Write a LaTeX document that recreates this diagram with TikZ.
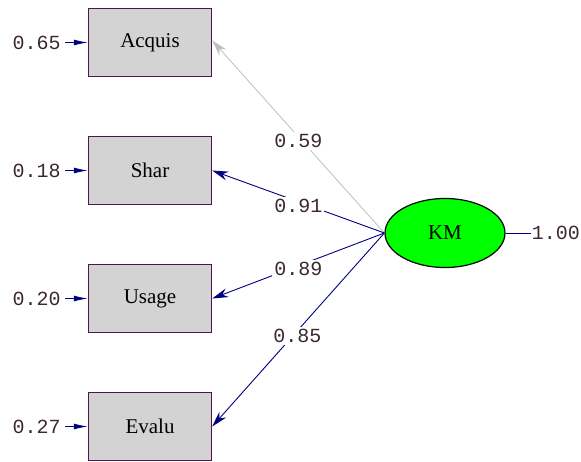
\documentclass[tikz,border=0pt]{standalone}
\usepackage{fontspec}
\setmainfont{Liberation Serif}
\setmonofont{Liberation Mono}
\usetikzlibrary{arrows.meta,shapes.geometric}
\definecolor{boxfill}{RGB}{211,211,211}
\definecolor{boxline}{RGB}{80,20,80}
\definecolor{navy}{RGB}{0,0,128}
\definecolor{lightarr}{RGB}{190,190,190}
\definecolor{numcol}{RGB}{60,40,50}
\begin{document}
\begin{tikzpicture}[x=1pt,y=-1pt,
  obs/.style={draw=boxline,line width=1.4pt,fill=boxfill,minimum width=123pt,minimum height=68pt,inner sep=0pt,font=\fontsize{21}{23}\selectfont},
  lat/.style={ellipse,draw=black,line width=1.2pt,fill=green,minimum width=120pt,minimum height=69pt,inner sep=0pt,font=\fontsize{21}{23}\selectfont},
  num/.style={font=\ttfamily\fontsize{20}{22}\selectfont,text=numcol,inner sep=1pt},
  lbl/.style={num,fill=white,inner sep=2pt},
  load/.style={draw=navy,line width=0.9pt,-{Stealth[length=16pt,width=9pt]}},
  errarr/.style={draw=navy,line width=1pt,-{Latex[length=14pt,width=6pt]}}]
\useasboundingbox (0,0) rectangle (581,462);
\node[obs] (acq) at (150,42.5) {Acquis};
\node[obs] (sha) at (150,170.5) {Shar};
\node[obs] (usa) at (150,298.5) {Usage};
\node[obs] (eva) at (150,426.5) {Evalu};
\node[lat] (km) at (445,233) {KM};
% error terms
\foreach \n/\v in {acq/0.65,sha/0.18,usa/0.20,eva/0.27}{
  \coordinate (e\n) at ([xshift=-23pt]\n.west);
  \node[num,anchor=east] (t\n) at ([xshift=-3pt]e\n) {\v};
  \draw[errarr] (e\n) -- (\n.west);
}
% loadings
\draw[draw=lightarr,line width=0.8pt,-{Stealth[length=16pt,width=9pt]}] (km.west) -- node[lbl,pos=0.5,yshift=-4pt] {0.59} ([yshift=2pt]acq.east);
\draw[load] (km.west) -- node[lbl,pos=0.5,yshift=-4pt] {0.91} (sha.east);
\draw[load] (km.west) -- node[lbl,pos=0.5,yshift=-3pt] {0.89} (usa.east);
\draw[load] (km.west) -- node[lbl,pos=0.5,yshift=-6pt,xshift=-1pt] {0.85} (eva.east);
% latent variance
\coordinate (kv) at ([xshift=25pt]km.east);
\draw[draw=navy,line width=0.9pt] (km.east) -- (kv);
\node[num,anchor=west] (tkv) at (kv) {1.00};
\end{tikzpicture}
\end{document}
